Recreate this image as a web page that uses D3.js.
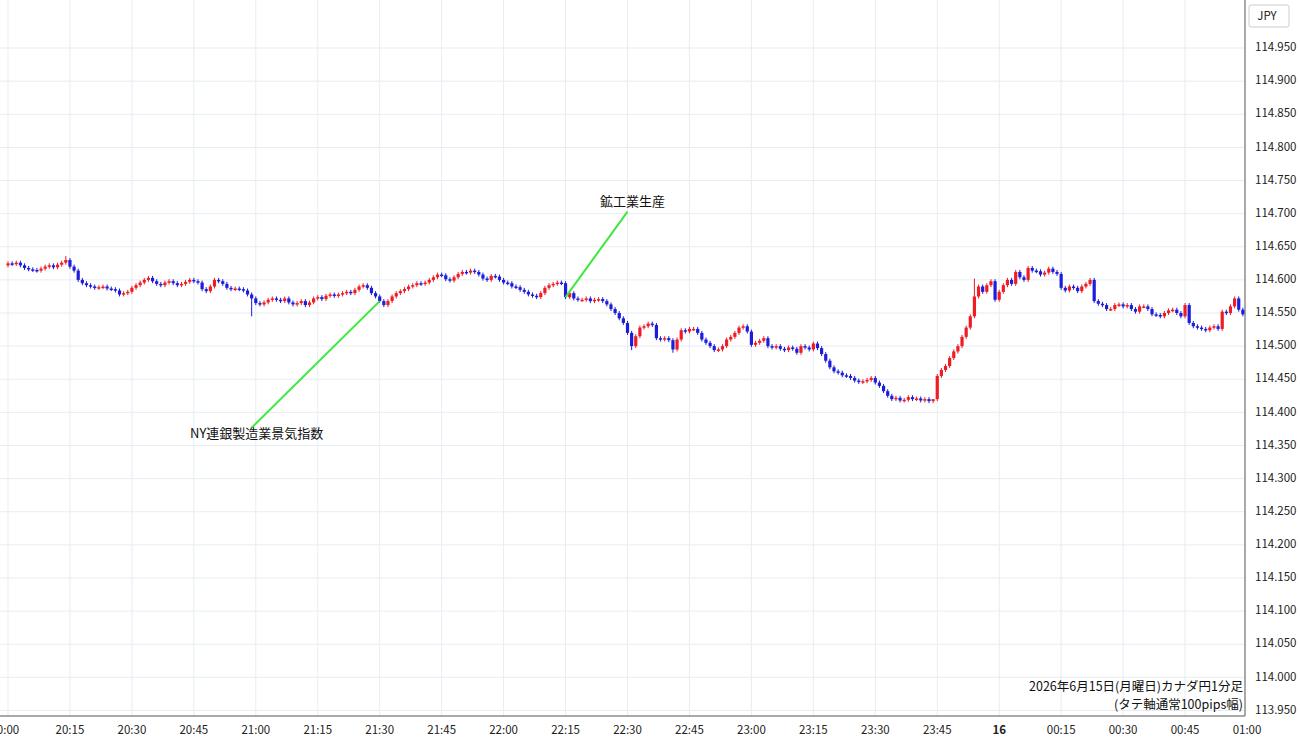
<!DOCTYPE html>
<html><head><meta charset="utf-8">
<script src="https://cdn.jsdelivr.net/npm/d3@7"></script>
<style>body{margin:0;background:#fff}text{font-family:"Noto Sans CJK JP","Noto Sans",sans-serif}</style>
</head><body><div id="wrapper"></div>
<script>
// 1-minute closes from 20:00 to 00:59
const closes = [
114.625,114.624,114.626,114.622,114.618,114.616,114.615,114.614,114.617,114.620,114.622,114.619,114.623,114.626,114.630,114.620,114.614,114.600,114.595,114.592,114.590,114.588,114.589,114.590,114.587,114.586,114.584,114.578,114.580,114.582,
114.588,114.592,114.596,114.600,114.603,114.598,114.594,114.592,114.596,114.598,114.595,114.592,114.594,114.597,114.600,114.598,114.596,114.586,114.583,114.590,114.600,114.598,114.594,114.588,114.586,114.587,114.586,114.584,114.578,114.572,
114.565,114.563,114.566,114.570,114.572,114.570,114.568,114.572,114.566,114.563,114.565,114.568,114.562,114.566,114.572,114.574,114.571,114.576,114.578,114.576,114.578,114.580,114.582,114.580,114.585,114.590,114.592,114.588,114.580,114.575,
114.568,114.562,114.568,114.575,114.580,114.583,114.586,114.590,114.592,114.595,114.594,114.596,114.600,114.604,114.608,114.607,114.601,114.599,114.604,114.609,114.612,114.611,114.614,114.612,114.608,114.602,114.600,114.606,114.605,114.600,
114.596,114.595,114.590,114.589,114.585,114.582,114.578,114.576,114.574,114.580,114.588,114.592,114.594,114.596,114.595,114.574,114.580,114.572,114.570,114.570,114.572,114.568,114.570,114.571,114.568,114.563,114.556,114.550,114.542,114.535,
114.520,114.500,114.515,114.528,114.530,114.534,114.532,114.512,114.510,114.512,114.509,114.495,114.510,114.524,114.522,114.526,114.526,114.520,114.510,114.505,114.500,114.494,114.495,114.500,114.510,114.514,114.520,114.528,114.530,114.522,
114.502,114.505,114.508,114.512,114.500,114.498,114.500,114.496,114.494,114.498,114.496,114.490,114.500,114.498,114.495,114.504,114.497,114.488,114.478,114.468,114.462,114.460,114.456,114.455,114.452,114.448,114.446,114.447,114.449,114.452,
114.445,114.440,114.432,114.425,114.420,114.422,114.418,114.419,114.423,114.420,114.421,114.418,114.420,114.417,114.420,114.455,114.464,114.470,114.482,114.492,114.500,114.514,114.528,114.545,114.575,114.590,114.582,114.592,114.598,114.570,
114.582,114.592,114.600,114.594,114.612,114.604,114.600,114.618,114.614,114.613,114.608,114.611,114.617,114.612,114.609,114.588,114.584,114.590,114.588,114.583,114.590,114.594,114.600,114.568,114.564,114.562,114.556,114.556,114.562,114.563,
114.560,114.562,114.556,114.552,114.560,114.560,114.556,114.548,114.547,114.545,114.550,114.554,114.555,114.550,114.545,114.562,114.535,114.530,114.528,114.526,114.524,114.528,114.530,114.526,114.552,114.550,114.560,114.572,114.555,114.548
]
const firstOpen = 114.622
const specialLows = {59: 114.545, 161: 114.490, 151: 114.494}
const specialHighs = {14: 114.636, 224: 114.420, 234: 114.602}
const timeLabels = ["0:00","20:15","20:30","20:45","21:00","21:15","21:30","21:45","22:00","22:15","22:30","22:45","23:00","23:15","23:30","23:45","16","00:15","00:30","00:45","01:00"]
const priceTicks = d3.range(0, 21).map(k => +(113.95 + k * 0.05).toFixed(3))
const events = [
    {label: "NY連銀製造業景気指数", at: 90, to: 59, toPrice: 114.377, labelPrice: 114.366},
    {label: "鉱工業生産", at: 135, to: 150, toPrice: 114.703, labelPrice: 114.717},
]

const candles = closes.map((c, i) => {
    const o = i === 0 ? firstOpen : closes[i - 1]
    return {
        i, o, c,
        h: specialHighs[i] ?? Math.max(o, c) + 0.003,
        l: specialLows[i] ?? Math.min(o, c) - 0.003,
    }
})

const width = 1300, height = 745, plotRight = 1245, plotBottom = 716

const svg = d3.select("#wrapper").append("svg").attr("width", width).attr("height", height)

const x = d3.scaleLinear().domain([0, 300]).range([8, 1247])
const y = d3.scaleLinear().domain([113.95, 115.0]).range([710.5, 14.9])

// grid
svg.append("g").selectAll("line").data(d3.range(0, 301, 15)).join("line")
    .attr("x1", d => x(d)).attr("x2", d => x(d)).attr("y1", 0).attr("y2", plotBottom)
    .attr("stroke", "#e6edf3")
svg.append("g").selectAll("line").data(priceTicks).join("line")
    .attr("x1", 0).attr("x2", plotRight).attr("y1", d => y(d)).attr("y2", d => y(d))
    .attr("stroke", "#e6edf3")

// candles
const up = "#ee1c25", down = "#1c1cdc"
const cg = svg.append("g")
cg.selectAll("line").data(candles).join("line")
    .attr("x1", d => x(d.i)).attr("x2", d => x(d.i))
    .attr("y1", d => y(d.h)).attr("y2", d => y(d.l))
    .attr("stroke", d => d.c >= d.o ? up : down).attr("stroke-width", 1)
cg.selectAll("rect").data(candles).join("rect")
    .attr("x", d => x(d.i) - 1.6).attr("width", 3.2)
    .attr("y", d => y(Math.max(d.o, d.c)))
    .attr("height", d => Math.max(1.5, Math.abs(y(d.o) - y(d.c))))
    .attr("fill", d => d.c >= d.o ? up : down)

// event annotations
events.forEach(e => {
    svg.append("line")
        .attr("x1", x(e.at)).attr("y1", y(closes[e.at]))
        .attr("x2", x(e.to)).attr("y2", y(e.toPrice))
        .attr("stroke", "#3de83d").attr("stroke-width", 2)
    svg.append("text").attr("x", x(e.to) + 5).attr("y", y(e.labelPrice))
        .attr("text-anchor", "middle").attr("dominant-baseline", "middle")
        .attr("font-size", 13).attr("fill", "#111").text(e.label)
})

// right axis
svg.append("rect").attr("x", plotRight).attr("y", 0).attr("width", width - plotRight).attr("height", height).attr("fill", "#fff")
svg.append("line").attr("x1", plotRight).attr("x2", plotRight).attr("y1", 0).attr("y2", plotBottom).attr("stroke", "#555")
svg.append("g").selectAll("text").data(priceTicks.filter(p => p < 114.99)).join("text")
    .attr("x", 1255).attr("y", d => y(d)).attr("dominant-baseline", "middle")
    .attr("font-size", 11.5).attr("fill", "#222").text(d => d.toFixed(3))
svg.append("rect").attr("x", 1249).attr("y", 5).attr("width", 40).attr("height", 22)
    .attr("fill", "#fff").attr("stroke", "#ccc").attr("rx", 2)
svg.append("text").attr("x", 1267).attr("y", 17).attr("text-anchor", "middle").attr("dominant-baseline", "middle")
    .attr("font-size", 11.5).attr("fill", "#222").text("JPY")

// bottom axis
svg.append("rect").attr("x", 0).attr("y", plotBottom).attr("width", width).attr("height", height - plotBottom).attr("fill", "#fff")
svg.append("line").attr("x1", 0).attr("x2", plotRight).attr("y1", plotBottom).attr("y2", plotBottom).attr("stroke", "#555")
svg.append("g").selectAll("text").data(timeLabels).join("text")
    .attr("x", (d, k) => x(k * 15)).attr("y", 731).attr("text-anchor", "middle").attr("dominant-baseline", "middle")
    .attr("font-size", 11.5).attr("fill", "#222").attr("font-weight", d => d === "16" ? "bold" : "normal")
    .text(d => d)

// caption
svg.append("text").attr("x", 1243).attr("y", 688).attr("text-anchor", "end").attr("dominant-baseline", "middle")
    .attr("font-size", 12.5).attr("fill", "#111").text("2026年6月15日(月曜日)カナダ円1分足")
svg.append("text").attr("x", 1243).attr("y", 706).attr("text-anchor", "end").attr("dominant-baseline", "middle")
    .attr("font-size", 12.5).attr("fill", "#111").text("(タテ軸通常100pips幅)")
</script>
</body></html>
